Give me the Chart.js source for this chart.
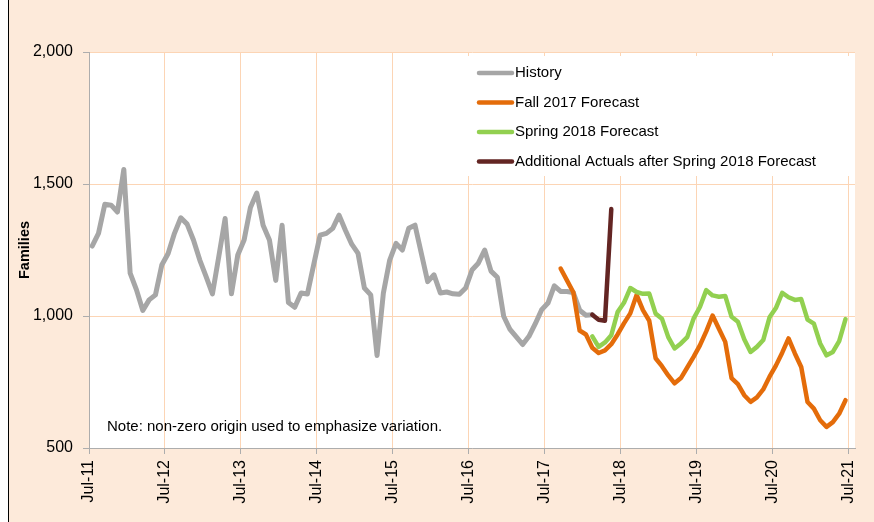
<!DOCTYPE html>
<html>
<head>
<meta charset="utf-8">
<script src="https://cdn.jsdelivr.net/npm/chart.js@4.4.1/dist/chart.umd.min.js"></script>
<style>
  html, body { margin: 0; padding: 0; background: #FDEADA; }
  #wrap { width: 874px; height: 522px; }
</style>
</head>
<body>
<div id="wrap"><canvas id="familiesChart" width="874" height="522"></canvas></div>
<script>
// Tick labels (one every 12 months, first month = Jul-11)
const xTickLabels = ['Jul-11', 'Jul-12', 'Jul-13', 'Jul-14', 'Jul-15', 'Jul-16',
                     'Jul-17', 'Jul-18', 'Jul-19', 'Jul-20', 'Jul-21'];

// Monthly values. *Start = month number counted from Jul-11
const historyStart = 0;
const history = [1265, 1313, 1423, 1420, 1394, 1555, 1162, 1099, 1021, 1061,
                 1080, 1193, 1237, 1313, 1372, 1348, 1288, 1212, 1149, 1084,
                 1225, 1369, 1084, 1231, 1288, 1411, 1466, 1344, 1288, 1135,
                 1344, 1051, 1033, 1087, 1083, 1195, 1306, 1313, 1332, 1382,
                 1325, 1272, 1237, 1106, 1080, 850, 1087, 1212, 1275, 1250,
                 1332, 1344, 1237, 1130, 1156, 1087, 1091, 1084, 1082, 1106,
                 1174, 1200, 1250, 1170, 1147, 999, 949, 921, 892, 923,
                 971, 1024, 1049, 1114, 1093, 1093, 1089, 1022, 1003, 1005];

const fallStart = 74;
const fall2017 = [1180, 1135, 1090, 945, 930, 880, 860, 870, 893, 930,
                  972, 1010, 1080, 1022, 982, 840, 810, 775, 745, 765,
                  805, 845, 889, 942, 1002, 952, 902, 765, 742, 700,
                  675, 692, 722, 770, 812, 861, 915, 858, 807, 674,
                  649, 605, 580, 598, 630, 681];

const springStart = 79;
const spring2018 = [923, 883, 900, 927, 1015, 1050, 1106, 1091, 1084, 1085,
                    1009, 990, 920, 877, 896, 920, 990, 1034, 1098, 1078,
                    1073, 1076, 997, 978, 912, 864, 883, 909, 995, 1030,
                    1088, 1071, 1061, 1064, 986, 971, 896, 851, 864, 905,
                    988];

const actualsStart = 79;
const actuals = [1005, 986, 982, 1405];

// values are mid-month
function toPoints(start, values) {
    return values.map((v, i) => ({ x: start + i + 0.5, y: v }));
}

const FONT = "'Liberation Sans', Arial, sans-serif";
Chart.defaults.font.family = FONT;
Chart.defaults.color = '#000';

const GRID = '#FCD5B5';
const AXIS = '#ADADAD';

// page colours, white plot area, left border line
const backdrop = {
    id: 'backdrop',
    beforeDraw(chart) {
        const { ctx, chartArea: a, width, height } = chart;
        ctx.save();
        ctx.fillStyle = '#FDEADA';
        ctx.fillRect(0, 0, width, height);
        ctx.fillStyle = '#FFFFFF';
        ctx.fillRect(0, 0, 8, height);
        ctx.fillRect(a.left, a.top, a.right - a.left, a.bottom - a.top);
        ctx.fillStyle = '#000';
        ctx.fillRect(8, 0, 1, height);
        ctx.restore();
    }
};

// legend box inside the plot + the note
const boxLegend = {
    id: 'boxLegend',
    afterDraw(chart) {
        const { ctx, chartArea: a } = chart;
        ctx.save();
        ctx.fillStyle = '#FFFFFF';
        ctx.fillRect(466, 56, 384, 120);
        ctx.font = '15px ' + FONT;
        ctx.textBaseline = 'middle';
        ctx.lineCap = 'round';
        chart.data.datasets.forEach((ds, i) => {
            const y = 73 + i * 29.5;
            ctx.strokeStyle = ds.borderColor;
            ctx.lineWidth = 4.5;
            ctx.beginPath();
            ctx.moveTo(479, y);
            ctx.lineTo(512, y);
            ctx.stroke();
            ctx.fillStyle = '#000';
            ctx.fillText(ds.label, 515, y);
        });
        ctx.fillText('Note: non-zero origin used to emphasize variation.', a.left + 18, 427);
        ctx.restore();
    }
};

const ctx = document.getElementById('familiesChart').getContext('2d');
const familiesChart = new Chart(ctx, {
    type: 'line',
    data: {
        datasets: [{
            label: 'History',
            data: toPoints(historyStart, history),
            borderColor: '#A6A6A6',
            borderWidth: 5,
            order: 4
        }, {
            label: 'Fall 2017 Forecast',
            data: toPoints(fallStart, fall2017),
            borderColor: '#E46C0A',
            borderWidth: 4.5,
            order: 3
        }, {
            label: 'Spring 2018 Forecast',
            data: toPoints(springStart, spring2018),
            borderColor: '#92D050',
            borderWidth: 4.5,
            order: 2
        }, {
            label: 'Additional Actuals after Spring 2018 Forecast',
            data: toPoints(actualsStart, actuals),
            borderColor: '#632523',
            borderWidth: 4.5,
            order: 1
        }]
    },
    options: {
        responsive: false,
        animation: false,
        events: [],
        layout: { padding: { left: 9, top: 52, right: 14, bottom: 0 } },
        elements: {
            point: { radius: 0 },
            line: { tension: 0, borderJoinStyle: 'round', borderCapStyle: 'round', fill: false }
        },
        plugins: {
            legend: { display: false },
            tooltip: { enabled: false }
        },
        scales: {
            x: {
                type: 'linear',
                min: 0,
                max: 121,
                afterFit: (scale) => { scale.height = 74; },
                grid: { color: GRID, tickColor: AXIS, tickLength: 6 },
                border: { color: AXIS, width: 1 },
                ticks: {
                    stepSize: 12,
                    includeBounds: false,
                    autoSkip: false,
                    minRotation: 90,
                    maxRotation: 90,
                    padding: 6,
                    font: { size: 16 },
                    callback: (v) => xTickLabels[v / 12]
                }
            },
            y: {
                min: 500,
                max: 2000,
                afterFit: (scale) => { scale.width = 80; },
                grid: { color: GRID, tickColor: AXIS, tickLength: 6 },
                border: { color: AXIS, width: 1 },
                ticks: {
                    stepSize: 500,
                    padding: 10,
                    font: { size: 16 },
                    callback: (v) => v.toLocaleString('en-US')
                },
                title: {
                    display: true,
                    text: 'Families',
                    font: { size: 14.5, weight: 'bold' },
                    padding: { top: 7, bottom: 0 }
                }
            }
        }
    },
    plugins: [backdrop, boxLegend]
});
</script>
</body>
</html>
